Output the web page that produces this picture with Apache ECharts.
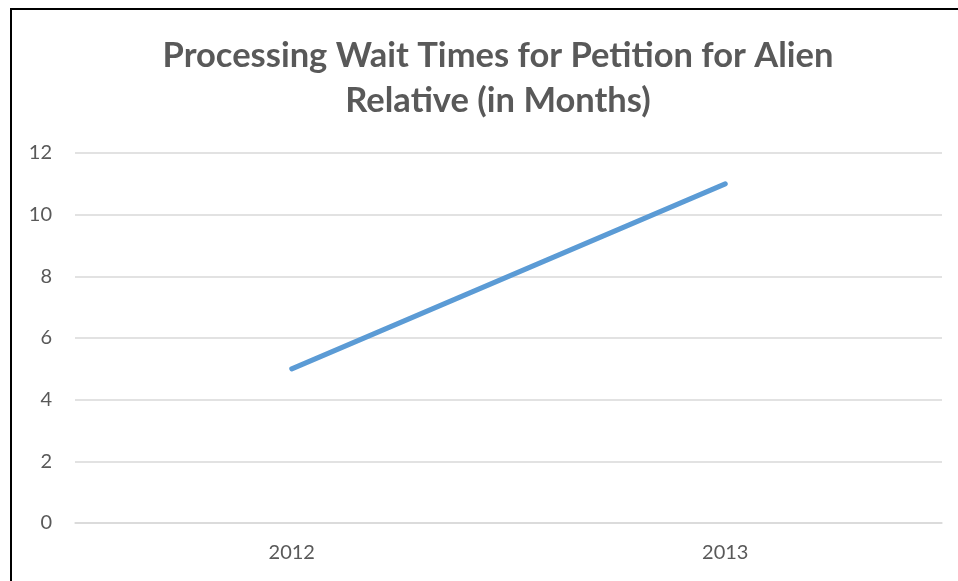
<!DOCTYPE html>
<html>
<head>
<meta charset="utf-8">
<script src="https://cdn.jsdelivr.net/npm/echarts@6/dist/echarts.min.js"></script>
<style>
	body { margin: 0; background: #fff; }
	#wrap { position: relative; width: 958px; height: 581px; overflow: hidden; }
	#chart { position: absolute; left: 0; top: 0; width: 958px; height: 581px; }
	#frame { position: absolute; left: 10px; top: 8px; width: 960px; height: 600px;
		border-left: 2.5px solid #000; border-top: 2.5px solid #000; pointer-events: none; }
</style>
</head>
<body>
<div id="wrap">
	<div id="chart"></div>
	<div id="frame"></div>
</div>
<script>
// 数据
var years = ["2012", "2013"];
var waitMonths = [5, 11];
var titleText = "Processing Wait Times for Petition for Alien\nRelative (in Months)";

var myChart = echarts.init(document.getElementById("chart"));
myChart.setOption({
	animation : false,
	title : {
		text : titleText,
		left : 493,
		textAlign : 'center',
		top : 28,
		textStyle : {
			fontFamily : 'Lato',
			fontWeight : 'bold',
			fontSize : 34.5,
			color : '#595959',
			lineHeight : 45
		}
	},
	grid : {
		left : 75,
		right : 16,
		top : 153,
		bottom : 58
	},
	xAxis : {
		type : 'category',
		data : years,
		axisLine : { show : true, lineStyle : { color : '#d9d9d9', width : 1.5 } },
		axisTick : { show : false },
		axisLabel : { color : '#595959', fontFamily : 'Lato', fontSize : 20, margin : 20 }
	},
	yAxis : {
		type : 'value',
		min : 0,
		max : 12,
		interval : 2,
		axisLine : { show : false },
		axisTick : { show : false },
		axisLabel : { color : '#595959', fontFamily : 'Lato', fontSize : 20, margin : 23 },
		splitLine : { lineStyle : { color : '#d9d9d9', width : 1.5 } }
	},
	series : [ {
		type : 'line',
		data : waitMonths,
		symbol : 'none',
		lineStyle : { color : '#5b9bd5', width : 5, cap : 'round' }
	} ]
});
</script>
</body>
</html>
